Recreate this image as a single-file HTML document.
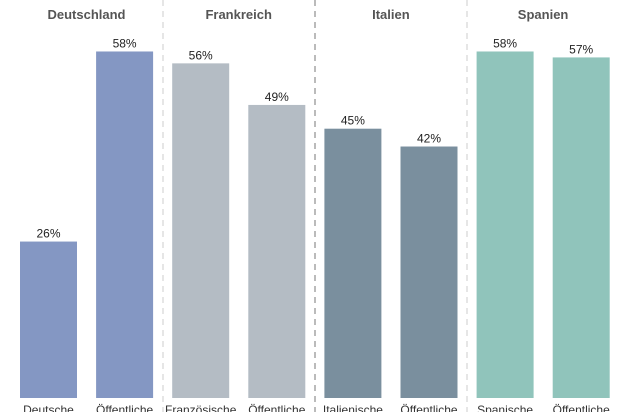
<!DOCTYPE html>
<html><head><meta charset="utf-8"><style>
body{margin:0;background:#fff;width:630px;height:412px;overflow:hidden;font-family:"Liberation Sans",Arial,sans-serif}
</style></head><body>
<svg id="chart" width="630" height="412" xmlns="http://www.w3.org/2000/svg"></svg>
<script>
const groups=["Deutschland","Frankreich","Italien","Spanien"];
const categories=["Deutsche","Öffentliche","Französische","Öffentliche","Italienische","Öffentliche","Spanische","Öffentliche"];
const values=[26,58,56,49,45,42,58,57];
const valueLabels=["26%","58%","56%","49%","45%","42%","58%","57%"];
const colors=["#8497c3","#8497c3","#b4bcc4","#b4bcc4","#7a8f9e","#7a8f9e","#90c4bb","#90c4bb"];
const svg=document.getElementById('chart');
const NS="http://www.w3.org/2000/svg";
const base=396, scale=5.94;
const y=v=>base-v*scale;
const x=i=>20+i*76.1;
const bw=57;
function mk(t,a){const e=document.createElementNS(NS,t);for(const k in a)e.setAttribute(k,a[k]);svg.appendChild(e);return e;}
[163,315,467].forEach((dx,i)=>{
  const l=mk('line',{x1:dx,x2:dx,y1:0,y2:412,stroke:i==1?'#777':'#ccc','stroke-width':1,'stroke-dasharray':'6,5'});
  
  
});
groups.forEach((g,i)=>{
  const t=mk('text',{x:x(i*2)+bw+9.5,y:19,'text-anchor':'middle','font-size':13,'font-weight':'bold',fill:'#555'});
  t.textContent=g;
  
  
});
values.forEach((v,i)=>{
  const r=mk('rect',{x:x(i),y:y(v),width:bw,height:base-y(v)+2,fill:colors[i]});
  
  
  const t=mk('text',{x:x(i)+bw/2,y:y(v)-4,'text-anchor':'middle','font-size':12,fill:'#222'});
  t.textContent=valueLabels[i];
  
  
  const c=mk('text',{x:x(i)+bw/2,y:414,'text-anchor':'middle','font-size':12,fill:'#333'});
  c.textContent=categories[i];
  
  
});
</script>
</body></html>
